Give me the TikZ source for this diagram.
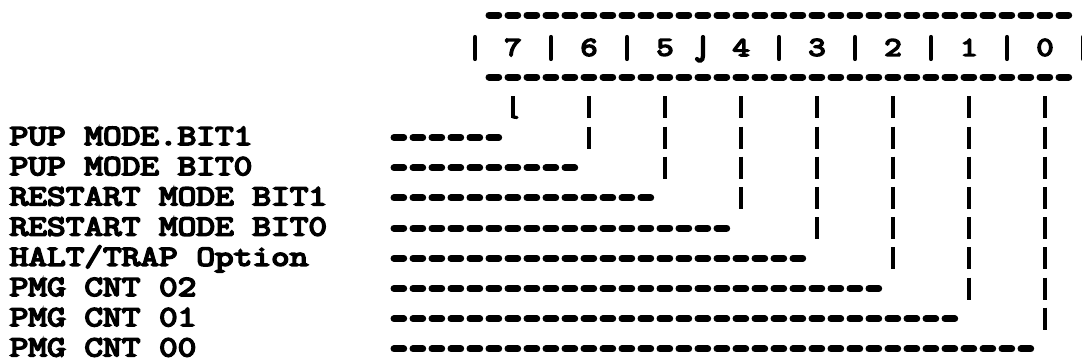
\documentclass[tikz,border=0pt]{standalone}
\usepackage{fontspec}
\newfontfamily\tw{Latin Modern Mono}[FakeBold=6,FakeStretch=1.25]
\begin{document}
\begin{tikzpicture}[x=1pt,y=-1pt,
  lbl/.style={anchor=base west,inner sep=0pt,font=\tw\fontsize{29}{30}\selectfont},
  bitnum/.style={inner sep=0pt,font=\tw\fontsize{27}{28}\selectfont},
  hdash/.style={line width=7pt,line cap=round,dash pattern=on 9.7pt off 9.3pt},
  vbar/.style={line width=3.9pt,dash pattern=on 22pt off 8.2pt},
  sepbar/.style={line width=4.2pt,line cap=round}]
\useasboundingbox (0,0) rectangle (1082,362);
% register frame (typed dashes)
\draw[hdash] (489,15) -- (1068.7,15);
\draw[hdash] (489,77) -- (1068.7,77);
% bit numbers
\foreach \b [count=\j from 0] in {7,6,5,4,3,2,1,0}
  \node[bitnum] (b\b) at ({513+76*\j},47.5) {\b};
% separators
\foreach \j in {0,1,2,4,5,6,7,8}
  \draw[sepbar] ({475+76*\j},37) -- ({475+76*\j},59);
\draw[sepbar] (703,37) -- (703,56) .. controls (703,61) and (699,62) .. (697,59);
% labels
\foreach \k/\t in {1/{PUP MODE\rlap{.} BIT1},2/{PUP MODE BIT0},3/{RESTART MODE BIT1},
  4/{RESTART MODE BIT0},5/{HALT/TRAP Option},6/{PMG CNT 02},7/{PMG CNT 01},8/{PMG CNT 00}}
  \node[lbl] (l\k) at (9.5,{137.5+30.2*(\k-1)+7.4}) {\t};
% horizontal runs
\foreach \k in {1,...,8}{
  \coordinate (hs\k) at (394,{137.5+30.2*(\k-1)});
  \coordinate (he\k) at ({389.5+19*(4*\k+2)-4.8},{137.5+30.2*(\k-1)});
  \draw[hdash] (hs\k) -- (he\k);
}
% vertical runs from each bit down to its row
\foreach \b [count=\j from 0] in {7,6,5,4,3,2,1,0}{
  \coordinate (vs\b) at ({513+76*\j},96.3);
  \coordinate (ve\b) at ({513+76*\j},{107.3+30.2*\j+11});
  \draw[vbar] (b\b |- vs\b) -- (ve\b);
}
\draw[line width=3.2pt,line cap=round] (513,117) -- (517,117.5);
\end{tikzpicture}
\end{document}
